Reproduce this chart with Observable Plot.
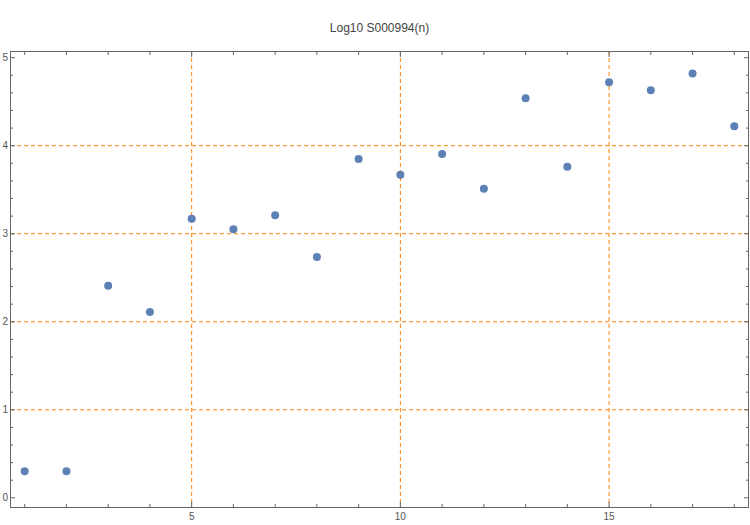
<!DOCTYPE html>
<html><head><meta charset="utf-8">
<script src="https://cdn.jsdelivr.net/npm/d3@7"></script>
<script src="https://cdn.jsdelivr.net/npm/@observablehq/plot@0.6"></script>
<style>body{margin:0;background:#fff}</style>
</head><body><div id="chart"></div>
<script>
const title = "Log10 S000994(n)";
const nValues = [1, 2, 3, 4, 5, 6, 7, 8, 9, 10, 11, 12, 13, 14, 15, 16, 17, 18];
const log10Values = [0.301, 0.301, 2.41, 2.11, 3.17, 3.05, 3.21, 2.735, 3.85, 3.67, 3.905, 3.51, 4.54, 3.76, 4.72, 4.63, 4.82, 4.22];
const xMajorTicks = [5, 10, 15];
const xMinorTicks = [1, 2, 3, 4, 6, 7, 8, 9, 11, 12, 13, 14, 16, 17, 18];
const yMajorTicks = [0, 1, 2, 3, 4, 5];
const yMinorTicks = [0.2, 0.4, 0.6, 0.8, 1.2, 1.4, 1.6, 1.8, 2.2, 2.4, 2.6, 2.8, 3.2, 3.4, 3.6, 3.8, 4.2, 4.4, 4.6, 4.8];
const xGrid = [5, 10, 15];
const yGrid = [1, 2, 3, 4];

const data = nValues.map((n, i) => ({n, v: log10Values[i]}));
const frameColor = "#666";
const gridColor = "#FF8000";
const intFormat = d => String(d);

const chart = Plot.plot({
  width: 750,
  height: 525,
  marginTop: 51,
  marginBottom: 18,
  marginLeft: 10,
  marginRight: 2,
  style: {fontFamily: "'Liberation Sans', Arial, sans-serif", fontSize: "10px", background: "#fff", overflow: "visible"},
  x: {domain: [0.66, 18.34]},
  y: {domain: [-0.11, 5.07]},
  marks: [
    Plot.gridX(xGrid, {stroke: gridColor, strokeOpacity: 1, strokeDasharray: "4,3"}),
    Plot.gridY(yGrid, {stroke: gridColor, strokeOpacity: 1, strokeDasharray: "4,3"}),
    Plot.frame({stroke: frameColor}),
    Plot.axisX(xMajorTicks, {anchor: "bottom", tickSize: -5, tickPadding: 10, tickFormat: intFormat, stroke: frameColor, fill: "#555", label: null}),
    Plot.axisX(xMajorTicks, {anchor: "top", tickSize: -5, stroke: frameColor, fill: "none", label: null}),
    Plot.axisX(xMinorTicks, {anchor: "bottom", tickSize: -3, stroke: frameColor, fill: "none", label: null}),
    Plot.axisX(xMinorTicks, {anchor: "top", tickSize: -3, stroke: frameColor, fill: "none", label: null}),
    Plot.axisY(yMajorTicks, {anchor: "left", tickSize: -5, tickPadding: 7.5, tickFormat: intFormat, stroke: frameColor, fill: "#555", label: null}),
    Plot.axisY(yMajorTicks, {anchor: "right", tickSize: -5, stroke: frameColor, fill: "none", label: null}),
    Plot.axisY(yMinorTicks, {anchor: "left", tickSize: -3, stroke: frameColor, fill: "none", label: null}),
    Plot.axisY(yMinorTicks, {anchor: "right", tickSize: -3, stroke: frameColor, fill: "none", label: null}),
    Plot.dot(data, {x: "n", y: "v", r: 4, fill: "#5E81B5"}),
    Plot.text([title], {frameAnchor: "top", dy: -28, fontSize: 12, fill: "#444"})
  ]
});
document.getElementById("chart").append(chart);
</script>
</body></html>
